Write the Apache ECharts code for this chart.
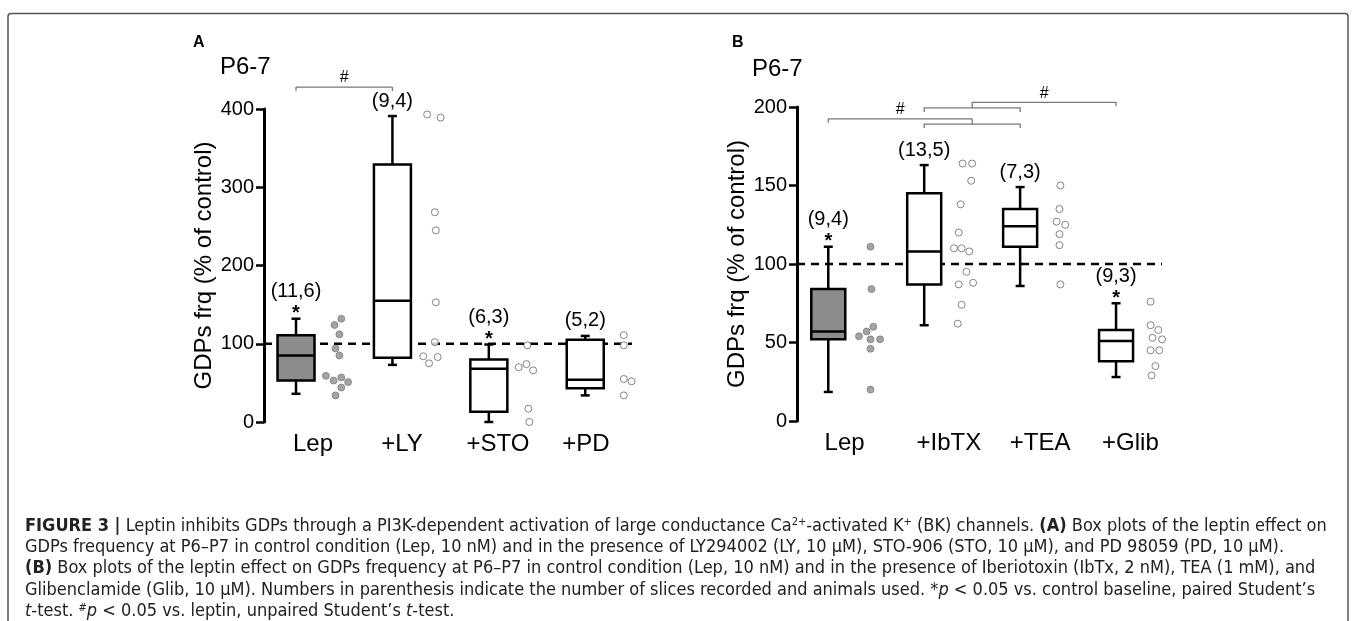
<!DOCTYPE html>
<html>
<head>
<meta charset="utf-8">
<script src="https://cdn.jsdelivr.net/npm/echarts@6/dist/echarts.min.js"></script>
<style>
html, body { margin: 0; padding: 0; background: #fff; }
#chart { width: 1357px; height: 621px; }
</style>
</head>
<body>
<div id="chart"></div>
<script>
// ---- panel A data ----
var catsA = ['Lep', '+LY', '+STO', '+PD'];
// min, q1, median, q3, max
var boxA = [
  [36, 53, 85, 111, 132],
  [73, 82, 155, 329, 391],
  [0, 13, 68, 80, 99],
  [34, 43, 54, 105, 110]
];
var dotsA = [
  [132, 124, 112, 94, 85, 59, 53, 57, 51, 44, 34],
  [393, 389, 268, 245, 153, 102, 84, 75, 83],
  [98, 70, 74, 66, 17, 0],
  [111, 98, 55, 52, 34]
];
// horizontal scatter of the dots, in category units right of the box
var jitterA = [
  [0.47, 0.40, 0.45, 0.41, 0.45, 0.31, 0.39, 0.47, 0.54, 0.47, 0.41],
  [0.36, 0.50, 0.44, 0.45, 0.45, 0.44, 0.32, 0.38, 0.47],
  [0.40, 0.31, 0.39, 0.46, 0.41, 0.42],
  [0.40, 0.40, 0.40, 0.48, 0.40]
];
var nA = ['(11,6)', '(9,4)', '(6,3)', '(5,2)'];
var starA = [1, 0, 1, 0];
var bracketsA = [{ left: [0], right: [1], y: 428 }];

// ---- panel B data ----
var catsB = ['Lep', '+IbTX', '+TEA', '+Glib'];
var boxB = [
  [18.5, 52, 57, 84, 111],
  [61, 87, 108, 145, 163],
  [86, 111, 124, 135, 149],
  [28, 38, 51, 58, 75]
];
var dotsB = [
  [111, 84, 54, 57, 60, 52, 52, 46, 20],
  [164, 164, 153, 138, 120, 110, 110, 108, 95, 87, 88, 74, 62],
  [150, 135, 127, 125, 119, 112, 87],
  [76, 61, 58, 53, 52, 45, 45, 35, 29]
];
var jitterB = [
  [0.44, 0.45, 0.32, 0.40, 0.47, 0.44, 0.54, 0.44, 0.44],
  [0.40, 0.50, 0.49, 0.38, 0.36, 0.31, 0.39, 0.47, 0.44, 0.36, 0.51, 0.39, 0.35],
  [0.42, 0.41, 0.38, 0.47, 0.41, 0.41, 0.42],
  [0.36, 0.36, 0.44, 0.38, 0.48, 0.36, 0.45, 0.41, 0.37]
];
var nB = ['(9,4)', '(13,5)', '(7,3)', '(9,3)'];
var starB = [1, 0, 0, 1];
var bracketsB = [
  { left: [0], right: [1, 2], y: 192.5, subY: 189.1 },
  { left: [1, 2], right: [3], y: 203, subY: 199.4 }
];

var baseline = 100;

var FONT = '"Liberation Sans", Arial, Helvetica, sans-serif';
var CAPFONT = '"Liberation Sans Narrow", "Arial Narrow", "DejaVu Sans Condensed", sans-serif';

function boxRender(halfW) {
  return function (params, api) {
    var i = api.value(0);
    var lo = api.coord([i, api.value(1)]);
    var q1 = api.coord([i, api.value(2)]);
    var md = api.coord([i, api.value(3)]);
    var q3 = api.coord([i, api.value(4)]);
    var hi = api.coord([i, api.value(5)]);
    var x = lo[0];
    var cap = 4.5;
    var st = { stroke: '#000', lineWidth: 2.5 };
    return {
      type: 'group',
      children: [
        { type: 'line', shape: { x1: x, y1: hi[1], x2: x, y2: q3[1] }, style: st },
        { type: 'line', shape: { x1: x, y1: q1[1], x2: x, y2: lo[1] }, style: st },
        { type: 'line', shape: { x1: x - cap, y1: hi[1], x2: x + cap, y2: hi[1] }, style: st },
        { type: 'line', shape: { x1: x - cap, y1: lo[1], x2: x + cap, y2: lo[1] }, style: st },
        {
          type: 'rect',
          shape: { x: x - halfW, y: q3[1], width: 2 * halfW, height: q1[1] - q3[1] },
          style: { fill: i === 0 ? '#8c8c8c' : '#fff', stroke: '#000', lineWidth: 2.5 }
        },
        { type: 'line', shape: { x1: x - halfW, y1: md[1], x2: x + halfW, y2: md[1] }, style: st }
      ]
    };
  };
}

function noteRender(labels, stars) {
  return function (params, api) {
    var i = api.value(0);
    var top = api.coord([i, api.value(1)]);
    var star = stars[i];
    var kids = [{
      type: 'text',
      style: {
        text: labels[i], x: top[0], y: top[1] - (star ? 27 : 15),
        align: 'center', verticalAlign: 'middle',
        font: '20px ' + FONT, fill: '#000'
      }
    }];
    if (star) {
      kids.push({
        type: 'text',
        style: {
          text: '*', x: top[0], y: top[1] - 5,
          align: 'center', verticalAlign: 'middle',
          font: 'bold 20px ' + FONT, fill: '#000'
        }
      });
    }
    return { type: 'group', children: kids };
  };
}

function bracketRender(list) {
  return function (params, api) {
    var b = list[api.value(0)];
    var yMain = api.coord([0, b.y])[1];
    var st = { stroke: '#777', lineWidth: 1.3, fill: 'none' };
    var kids = [];
    function end(ix) {
      if (ix.length === 1) {
        var x = api.coord([ix[0], 0])[0];
        kids.push({ type: 'line', shape: { x1: x, y1: yMain, x2: x, y2: yMain + 4 }, style: st });
        return x;
      }
      var xa = api.coord([ix[0], 0])[0];
      var xb = api.coord([ix[1], 0])[0];
      var ys = api.coord([0, b.subY])[1];
      var xm = (xa + xb) / 2;
      kids.push({ type: 'polyline', shape: { points: [[xa, ys + 4], [xa, ys], [xb, ys], [xb, ys + 4]] }, style: st });
      kids.push({ type: 'line', shape: { x1: xm, y1: yMain, x2: xm, y2: ys }, style: st });
      return xm;
    }
    var x1 = end(b.left);
    var x2 = end(b.right);
    kids.push({ type: 'line', shape: { x1: x1, y1: yMain, x2: x2, y2: yMain }, style: st });
    kids.push({
      type: 'text',
      style: {
        text: '#', x: (x1 + x2) / 2, y: yMain - 9,
        align: 'center', verticalAlign: 'middle',
        font: '16px ' + FONT, fill: '#000'
      }
    });
    return { type: 'group', children: kids };
  };
}

function baselineRender(params, api) {
  var cs = params.coordSys;
  var y = api.coord([0, api.value(0)])[1];
  return {
    type: 'line',
    shape: { x1: cs.x, y1: y, x2: cs.x + cs.width, y2: y },
    style: { stroke: '#000', lineWidth: 2.5, lineDash: [8, 6] }
  };
}

function dotData(dots, jit) {
  var out = [];
  dots.forEach(function (g, i) {
    g.forEach(function (v, k) {
      out.push({
        value: [i + jit[i][k], v],
        itemStyle: i === 0
          ? { color: '#8c8c8c', borderColor: '#707070', borderWidth: 0.8 }
          : { color: '#fff', borderColor: '#666', borderWidth: 1 }
      });
    });
  });
  return out;
}

function panelSeries(xi, yi, boxes, dots, jit, labels, stars, brackets, halfW) {
  return [
    {
      type: 'custom', xAxisIndex: xi, yAxisIndex: yi, z: 1, silent: true, clip: false,
      renderItem: baselineRender, data: [[baseline]], encode: { y: 0 }
    },
    {
      type: 'custom', xAxisIndex: xi, yAxisIndex: yi, z: 2, silent: true, clip: false,
      renderItem: boxRender(halfW),
      data: boxes.map(function (b, i) { return [i].concat(b); }),
      encode: { x: 0, y: [1, 2, 3, 4, 5] }
    },
    {
      type: 'scatter', xAxisIndex: xi, yAxisIndex: yi, z: 3, silent: true, clip: false,
      symbol: 'circle', symbolSize: 7, data: dotData(dots, jit)
    },
    {
      type: 'custom', xAxisIndex: xi, yAxisIndex: yi, z: 4, silent: true, clip: false,
      renderItem: noteRender(labels, stars),
      data: boxes.map(function (b, i) { return [i, b[4]]; }),
      encode: { x: 0, y: 1 }
    },
    {
      type: 'custom', xAxisIndex: xi, yAxisIndex: yi, z: 4, silent: true, clip: false,
      renderItem: bracketRender(brackets),
      data: brackets.map(function (b, i) { return [i]; }),
      encode: { x: 0 }
    }
  ];
}

function yAxisOpt(grid, max, interval) {
  return {
    type: 'value', gridIndex: grid, min: 0, max: max, interval: interval,
    name: 'GDPs frq (% of control)', nameLocation: 'middle', nameGap: 48,
    nameTextStyle: { fontFamily: FONT, fontSize: 24, color: '#000' },
    axisLine: { show: true, onZero: false, lineStyle: { color: '#000', width: 3 } },
    axisTick: { show: true, length: 8, lineStyle: { color: '#000', width: 2.5 } },
    axisLabel: { fontFamily: FONT, fontSize: 20, color: '#000', margin: 10 },
    splitLine: { show: false }
  };
}

function catAxisOpt(grid, cats, pads) {
  return {
    type: 'category', gridIndex: grid, position: 'bottom',
    data: cats.map(function (c, i) {
      return { value: c, textStyle: { padding: [0, 0, 0, pads[i]] } };
    }),
    axisLine: { show: false, onZero: false }, axisTick: { show: false }, splitLine: { show: false },
    axisLabel: { fontFamily: FONT, fontSize: 24, color: '#000', margin: 10, interval: 0 }
  };
}

var capLines = [
  '{b|FIGURE 3 |} Leptin inhibits GDPs through a PI3K-dependent activation of large conductance Ca{sup|2+}-activated K{sup|+} (BK) channels. {b|(A)} Box plots of the leptin effect on',
  'GDPs frequency at P6–P7 in control condition (Lep, 10 nM) and in the presence of LY294002 (LY, 10 μM), STO-906 (STO, 10 μM), and PD 98059 (PD, 10 μM).',
  '{b|(B)} Box plots of the leptin effect on GDPs frequency at P6–P7 in control condition (Lep, 10 nM) and in the presence of Iberiotoxin (IbTx, 2 nM), TEA (1 mM), and',
  'Glibenclamide (Glib, 10 μM). Numbers in parenthesis indicate the number of slices recorded and animals used. *{i|p} < 0.05 vs. control baseline, paired Student’s',
  '{i|t}-test. {sup|#}{i|p} < 0.05 vs. leptin, unpaired Student’s {i|t}-test.'
];
var capSize = 18;

var graphics = [
  {
    type: 'rect', silent: true,
    shape: { x: 8, y: 13.5, width: 1340, height: 640, r: 3 },
    style: { fill: 'none', stroke: '#555', lineWidth: 1.5 }
  },
  { type: 'text', x: 193, y: 43, style: { text: 'A', font: 'bold 16px ' + FONT, fill: '#000', verticalAlign: 'middle' } },
  { type: 'text', x: 220, y: 67, style: { text: 'P6-7', font: '24px ' + FONT, fill: '#000', verticalAlign: 'middle' } },
  { type: 'text', x: 732, y: 43, style: { text: 'B', font: 'bold 16px ' + FONT, fill: '#000', verticalAlign: 'middle' } },
  { type: 'text', x: 752, y: 69, style: { text: 'P6-7', font: '24px ' + FONT, fill: '#000', verticalAlign: 'middle' } }
];
capLines.forEach(function (t, k) {
  graphics.push({
    type: 'text', x: 25, y: 526 + k * 21.3, silent: true,
    style: {
      text: t, fontFamily: CAPFONT, fontSize: capSize, fill: '#222',
      verticalAlign: 'middle',
      rich: {
        b: { fontFamily: CAPFONT, fontSize: capSize, fontWeight: 'bold', fill: '#222' },
        i: { fontFamily: CAPFONT, fontSize: capSize, fontStyle: 'italic', fill: '#222' },
        sup: { fontFamily: CAPFONT, fontSize: 11, fill: '#222', verticalAlign: 'top' }
      }
    }
  });
});

var chart = echarts.init(document.getElementById('chart'));
chart.setOption({
  animation: false,
  backgroundColor: '#fff',
  grid: [
    { left: 264, top: 109, width: 368, height: 313 },
    { left: 797, top: 107, width: 365, height: 314 }
  ],
  xAxis: [
    { type: 'value', gridIndex: 0, min: -0.332, max: 3.485, show: false },
    catAxisOpt(0, catsA, [6, 0, 8, 0]),
    { type: 'value', gridIndex: 1, min: -0.326, max: 3.479, show: false },
    catAxisOpt(1, catsB, [4, 30, 30, 28])
  ],
  yAxis: [yAxisOpt(0, 400, 100), yAxisOpt(1, 200, 50)],
  series: panelSeries(0, 0, boxA, dotsA, jitterA, nA, starA, bracketsA, 18.5)
    .concat(panelSeries(2, 1, boxB, dotsB, jitterB, nB, starB, bracketsB, 17)),
  graphic: graphics
});
</script>
</body>
</html>
